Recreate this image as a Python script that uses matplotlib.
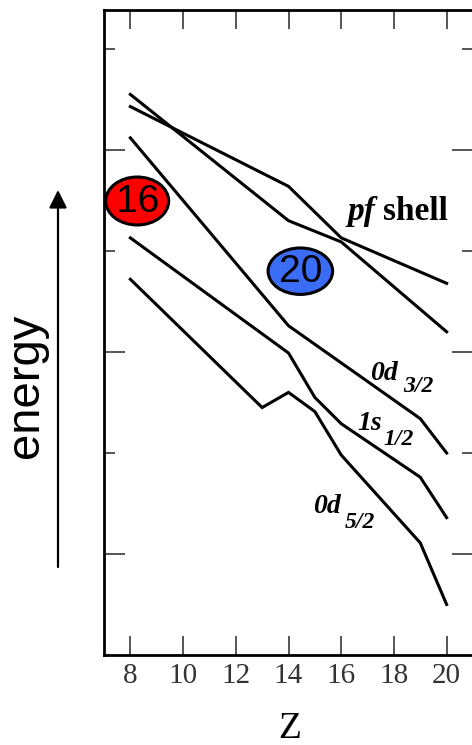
import matplotlib
matplotlib.use("Agg")
import matplotlib.pyplot as plt
from matplotlib.patches import Ellipse
from matplotlib.ticker import FixedLocator, NullFormatter

# single-particle levels vs proton number Z (arbitrary energy units)
z_pf_a = [8, 14, 16, 20]
e_pf_a = [5.55, 4.30, 4.09, 3.20]
z_pf_b = [8, 14, 16, 20]
e_pf_b = [5.43, 4.64, 4.13, 3.68]
z_d32 = [8, 14, 19, 20]
e_d32 = [5.12, 3.26, 2.34, 2.00]
z_s12 = [8, 14, 15, 16, 19, 20]
e_s12 = [4.13, 2.99, 2.55, 2.29, 1.76, 1.36]
z_d52 = [8, 13, 14, 15, 16, 19, 20]
e_d52 = [3.72, 2.45, 2.60, 2.41, 1.98, 1.11, 0.50]

x_ticks = [8, 10, 12, 14, 16, 18, 20]
magic = ["16", "20"]

W, H = 472, 745
fig = plt.figure(figsize=(W / 100, H / 100), dpi=100)
ax = fig.add_axes([104 / W, (H - 655) / H, (473 - 104) / W, (655 - 10) / H])

serif = ["Liberation Serif", "DejaVu Serif"]
sans = ["Liberation Sans", "DejaVu Sans"]

for zz, ee in [(z_pf_a, e_pf_a), (z_pf_b, e_pf_b), (z_d32, e_d32),
               (z_s12, e_s12), (z_d52, e_d52)]:
    ax.plot(zz, ee, color="black", lw=2.2, solid_joinstyle="miter")

ax.set_xlim(7, 21)
ax.set_ylim(0, 6.386)

ax.set_xticks(x_ticks)
ax.set_xticklabels([str(t) for t in x_ticks], fontfamily=serif, fontsize=21,
                   color="#333333")
ax.tick_params(axis="x", which="major", direction="in", length=14, width=1.4,
               color="#555555", top=True, pad=6)
ax.yaxis.set_major_locator(FixedLocator([1, 3, 5]))
ax.yaxis.set_minor_locator(FixedLocator([2, 4, 6]))
ax.yaxis.set_major_formatter(NullFormatter())
ax.tick_params(axis="y", which="major", direction="in", length=15, width=1.4,
               color="#555555", right=True)
ax.tick_params(axis="y", which="minor", direction="in", length=8, width=1.4,
               color="#555555", right=True)
for sp in ax.spines.values():
    sp.set_linewidth(2.0)
    sp.set_color("black")

# magic number bubbles
for (cx, cy, w, h, col), lab in zip([(8.26, 4.495, 2.39, 0.475, "#ff0000"),
                                     (14.45, 3.80, 2.45, 0.46, "#3b6cf6")], magic):
    ax.add_patch(Ellipse((cx, cy), w, h, facecolor=col, edgecolor="black",
                         lw=2.2, zorder=5))
    ax.text(cx, cy - 0.01, lab, ha="center", va="center", fontsize=28,
            fontfamily=sans, zorder=6)


def ftext(x, y, s, **kw):
    fig.text(x / W, 1 - y / H, s, **kw)


# level labels
ftext(347, 220, "pf", fontfamily=serif, style="italic", weight="bold", fontsize=24)
ftext(383, 220, "shell", fontfamily=serif, weight="bold", fontsize=24)
for (x0, y0, x1, y1), main, sub in [((370, 380, 403, 392), "0d", "3/2"),
                                    ((357, 430, 383, 445), "1s", "1/2"),
                                    ((313, 513, 345, 528), "0d", "5/2")]:
    ftext(x0, y0, main, fontfamily=serif, style="italic", weight="bold", fontsize=20)
    ftext(x1, y1, sub, fontfamily=serif, style="italic", weight="bold", fontsize=17)

# axis titles
ftext(290, 738, "Z", fontfamily=serif, fontsize=27, ha="center", va="baseline")
ftext(26, 386, "energy", fontfamily=sans, fontsize=34, rotation=90,
      ha="center", va="center")
ax.annotate("", xy=(58, H - 190), xytext=(58, H - 567), xycoords="figure pixels",
            textcoords="figure pixels",
            arrowprops=dict(arrowstyle="-|>,head_length=0.6,head_width=0.3",
                            mutation_scale=18, lw=1.6, color="black",
                            shrinkA=0, shrinkB=0), annotation_clip=False)

fig.savefig("out.png", dpi=100)
